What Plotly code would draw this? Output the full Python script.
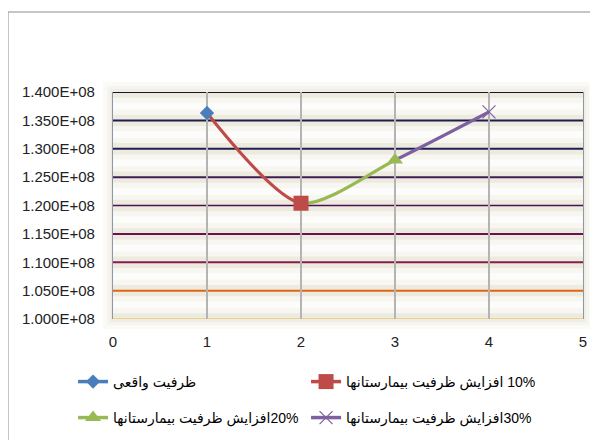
import plotly.graph_objects as go

# ---- data ----
x_vals = [1, 2, 3, 4]
capacity = [136300000, 120400000, 128000000, 136500000]
series_names = [
    "ظرفیت واقعی",
    "\u202B10% افزایش ظرفیت بیمارستانها\u202C",
    "\u202B20%افزایش ظرفیت بیمارستانها\u202C",
    "\u202B30%افزایش ظرفیت بیمارستانها\u202C",
]
series_colors = ["#4A7EBB", "#BE4B48", "#98B954", "#7D60A0"]
series_symbols = ["diamond", "square", "triangle-up", "x-thin-open"]
series_sizes = [11, 15, 14, 13]

x_ticks = [0, 1, 2, 3, 4, 5]
y_ticks = [100000000, 105000000, 110000000, 115000000, 120000000,
           125000000, 130000000, 135000000, 140000000]
y_tick_labels = ["1.000E+08", "1.050E+08", "1.100E+08", "1.150E+08", "1.200E+08",
                 "1.250E+08", "1.300E+08", "1.350E+08", "1.400E+08"]
grid_colors = ["#F4B937", "#E0660F", "#8C1A4C", "#6C1150", "#4C1050",
               "#3E1E52", "#20204F", "#1E1E4C", "#15152B"]
grid_widths = [1, 2, 2, 2, 1.6, 2, 2, 2, 2]

FONT = "Liberation Sans, DejaVu Sans, Arial, sans-serif"

fig = go.Figure()

# empty trace so the main subplot exists first
fig.add_trace(go.Scatter(x=[None], y=[None], xaxis="x", yaxis="y",
                         showlegend=False, hoverinfo="skip"))

# smooth segments: the whole series drawn with the library spline, each clipped
# to its own segment by an invisible x-axis whose domain covers that segment
for i in range(1, len(x_vals)):
    fig.add_trace(go.Scatter(
        x=x_vals, y=capacity, mode="lines",
        line=dict(color=series_colors[i], width=3.2, shape="spline",
                  smoothing=0.75),
        xaxis=f"x{i + 1}", yaxis="y", showlegend=False, hoverinfo="skip"))

# markers + legend entries
for i in range(len(x_vals)):
    sym = series_symbols[i]
    marker = dict(symbol=sym, size=series_sizes[i], color=series_colors[i])
    if sym.endswith("open"):
        marker["line"] = dict(color=series_colors[i], width=1.2)
    else:
        marker["line"] = dict(width=0)
    fig.add_trace(go.Scatter(
        x=[x_vals[i]], y=[capacity[i]], mode="lines+markers",
        name=series_names[i], marker=marker,
        line=dict(color=series_colors[i], width=3.5),
        xaxis="x5", yaxis="y", legend="legend" if i < 2 else "legend2"))

shapes = []
# soft glow around plot area
for pad, col in [(10, "#FAFAF7"), (6, "#F5F4EE"), (3, "#EFEDE5")]:
    px = pad / 470.0
    py = pad / 227.0
    shapes.append(dict(type="rect", xref="paper", yref="paper",
                       x0=-px, x1=1 + px, y0=-py, y1=1 + py,
                       fillcolor=col, line=dict(width=0), layer="below"))
# main plot background
shapes.append(dict(type="rect", xref="paper", yref="paper", x0=0, x1=1,
                   y0=0, y1=1, fillcolor="#EDEAE0", line=dict(width=0),
                   layer="below"))
# outer chart border
shapes.append(dict(type="rect", xref="paper", yref="paper",
                   x0=-0.2234, x1=1.5, y0=-1.0, y1=1.3524,
                   line=dict(color="#8C8C8C", width=1), layer="below"))
# bands with lighter centre
for a, b in zip(y_ticks[:-1], y_ticks[1:]):
    h = b - a
    shapes.append(dict(type="rect", xref="paper", yref="y", x0=0, x1=1,
                       y0=a + 0.2 * h, y1=b - 0.2 * h,
                       fillcolor="#F7F6F1", line=dict(width=0), layer="below"))
    shapes.append(dict(type="rect", xref="paper", yref="y", x0=0, x1=1,
                       y0=a + 0.38 * h, y1=b - 0.38 * h,
                       fillcolor="#FCFCFA", line=dict(width=0), layer="below"))
# coloured horizontal gridlines
for yv, c, w in zip(y_ticks, grid_colors, grid_widths):
    shapes.append(dict(type="line", xref="paper", yref="y", x0=0, x1=1,
                       y0=yv, y1=yv, line=dict(color=c, width=w), layer="below"))

seg_axes = {}
for i in range(1, len(x_vals)):
    seg_axes[f"xaxis{i + 1}"] = dict(
        domain=[x_vals[i - 1] / 5.0, x_vals[i] / 5.0],
        range=[x_vals[i - 1], x_vals[i]], visible=False, anchor="y",
        showgrid=False, zeroline=False, fixedrange=True)

fig.update_layout(
    width=598, height=440,
    margin=dict(l=105, r=23, t=84, b=129, autoexpand=False),
    paper_bgcolor="white",
    plot_bgcolor="rgba(0,0,0,0)",
    font=dict(family=FONT, size=15, color="#000000"),
    xaxis=dict(domain=[0, 1], range=[0, 5], tickvals=x_ticks,
               ticktext=[str(v) for v in x_ticks],
               showgrid=True, gridcolor="#B4B4B4", gridwidth=1.5,
               zeroline=False, showline=False,
               ticks="outside", ticklen=9, tickcolor="rgba(0,0,0,0)",
               tickfont=dict(family=FONT, size=15, color="#222")),
    yaxis=dict(domain=[0, 1], range=[100000000, 140000000], tickvals=y_ticks,
               ticktext=y_tick_labels, showgrid=False, zeroline=False,
               showline=True, mirror=True, linecolor="#8E98A2", linewidth=1.2,
               ticks="outside", ticklen=14, tickcolor="rgba(0,0,0,0)",
               tickfont=dict(family=FONT, size=15, color="#222")),
    xaxis5=dict(domain=[0, 1], range=[0, 5], visible=False, anchor="y",
                showgrid=False, zeroline=False),
    shapes=shapes,
    legend=dict(orientation="h", x=-0.085, y=-0.2775, xanchor="left",
                yanchor="middle", entrywidth=188, entrywidthmode="pixels",
                bgcolor="rgba(0,0,0,0)", font=dict(family=FONT, size=14),
                traceorder="normal"),
    legend2=dict(orientation="h", x=-0.085, y=-0.436, xanchor="left",
                 yanchor="middle", entrywidth=188, entrywidthmode="pixels",
                 bgcolor="rgba(0,0,0,0)", font=dict(family=FONT, size=14),
                 traceorder="normal"),
    **seg_axes,
)

fig.write_html("out.html")
